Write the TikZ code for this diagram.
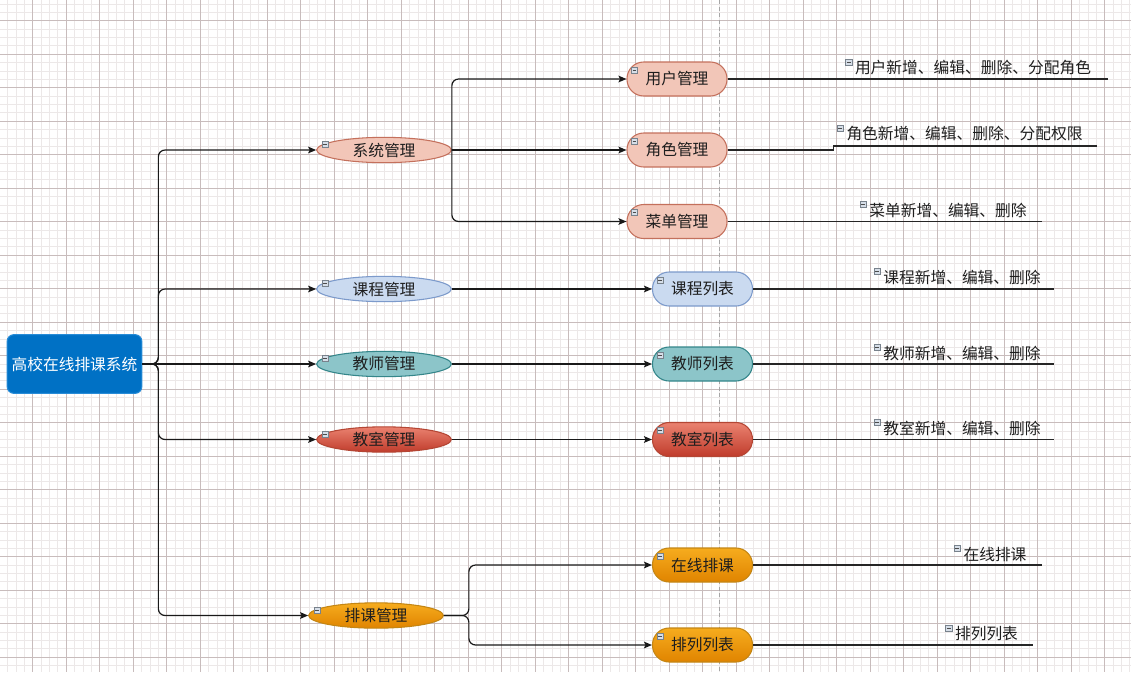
\documentclass[tikz,border=0pt]{standalone}
\usepackage{fontspec}
\setmainfont{Noto Sans CJK SC}
\usetikzlibrary{arrows.meta,shapes.geometric}

\definecolor{gridminor}{RGB}{236,232,232}
\definecolor{gridmajor}{RGB}{200,188,188}
\definecolor{rootblue}{RGB}{0,113,197}
\definecolor{rootedge}{RGB}{40,140,215}
\definecolor{sysfill}{RGB}{242,198,184}
\definecolor{sysedge}{RGB}{196,112,92}
\definecolor{coursefill}{RGB}{202,218,240}
\definecolor{courseedge}{RGB}{124,154,203}
\definecolor{teacherfill}{RGB}{140,197,201}
\definecolor{teacheredge}{RGB}{52,134,138}
\definecolor{roomtop}{RGB}{234,130,112}
\definecolor{roombot}{RGB}{192,60,44}
\definecolor{roomedge}{RGB}{180,70,52}
\definecolor{schedtop}{RGB}{246,172,30}
\definecolor{schedbot}{RGB}{224,132,0}
\definecolor{schededge}{RGB}{196,134,20}
\definecolor{textdark}{RGB}{30,30,30}
\definecolor{foldedge}{RGB}{120,130,140}
\definecolor{foldfill}{RGB}{214,222,232}

\tikzset{
  topic/.style={ellipse, draw, line width=0.8pt, minimum width=101pt,
    minimum height=19pt, inner sep=0pt, text=textdark},
  subtopic/.style={rectangle, rounded corners=12.5pt, draw, line width=0.8pt,
    minimum width=75pt, minimum height=25.5pt, inner sep=0pt, text=textdark},
  leaf/.style={inner sep=0pt, text=textdark},
  fold/.style={draw=foldedge, fill=foldfill, line width=0.4pt, minimum size=4.8pt,
    inner sep=0pt, path picture={\draw[black!70, line width=0.6pt]
      ([xshift=1pt]path picture bounding box.west) --
      ([xshift=-1pt]path picture bounding box.east);}},
  link/.style={draw=black!90, line width=0.9pt, rounded corners=5pt,
    -{Stealth[length=6pt,width=5pt,inset=1.2pt]}},
  leafline/.style={draw=black!85, line width=0.9pt},
}

\begin{document}
\begin{tikzpicture}[x=0.75pt, y=-0.75pt, font=\fontsize{11.8}{14}\selectfont]
\useasboundingbox (0,0) rectangle (1131,672);
\fill[white] (0,0) rectangle (1131,672);
% grid
\foreach \i in {0,...,135}
  \draw[gridminor, line width=0.3pt] ({\i*8.375-1},0) -- ({\i*8.375-1},672);
\foreach \j in {-2,...,77}
  \draw[gridminor, line width=0.3pt] (0,{\j*8.375+20.5}) -- (1131,{\j*8.375+20.5});
\foreach \i in {1,...,33}
  \draw[gridmajor, line width=0.5pt] ({\i*33.5-1},0) -- ({\i*33.5-1},672);
\foreach \j in {0,...,19}
  \draw[gridmajor, line width=0.5pt] (0,{\j*33.5+20.5}) -- (1131,{\j*33.5+20.5});
\draw[gray!70, line width=0.5pt, dash pattern=on 3pt off 2pt] (719,0) -- (719,672);

% root and topics
\node[rectangle, rounded corners=5pt, fill=rootblue, draw=rootedge, line width=0.8pt,
  minimum width=101pt, minimum height=44pt, inner sep=0pt, text=white]
  (root) at (74.5,364) {高校在线排课系统};
\node[topic, fill=sysfill, draw=sysedge] (sys) at (384,150) {系统管理};
\node[topic, fill=coursefill, draw=courseedge] (course) at (384,289) {课程管理};
\node[topic, fill=teacherfill, draw=teacheredge] (teacher) at (384,364) {教师管理};
\node[topic, top color=roomtop, bottom color=roombot, draw=roomedge] (room) at (384,439.5) {教室管理};
\node[topic, top color=schedtop, bottom color=schedbot, draw=schededge] (sched) at (376,615.5) {排课管理};

% subtopics
\node[subtopic, fill=sysfill, draw=sysedge] (user) at (677,79) {用户管理};
\node[subtopic, fill=sysfill, draw=sysedge] (role) at (677,150) {角色管理};
\node[subtopic, fill=sysfill, draw=sysedge] (menu) at (677,221.5) {菜单管理};
\node[subtopic, fill=coursefill, draw=courseedge] (courselist) at (702.5,289) {课程列表};
\node[subtopic, fill=teacherfill, draw=teacheredge] (teacherlist) at (702.5,364) {教师列表};
\node[subtopic, top color=roomtop, bottom color=roombot, draw=roomedge] (roomlist) at (702.5,439.5) {教室列表};
\node[subtopic, top color=schedtop, bottom color=schedbot, draw=schededge] (online) at (702.5,565) {在线排课};
\node[subtopic, top color=schedtop, bottom color=schedbot, draw=schededge] (arrange) at (702.5,645) {排列列表};

% leaves
\node[leaf] (userleaf) at (973,68) {用户新增、编辑、删除、分配角色};
\node[leaf] (roleleaf) at (964.5,134) {角色新增、编辑、删除、分配权限};
\node[leaf] (menuleaf) at (948,210) {菜单新增、编辑、删除};
\node[leaf] (courseleaf) at (962,277) {课程新增、编辑、删除};
\node[leaf] (teacherleaf) at (962,353) {教师新增、编辑、删除};
\node[leaf] (roomleaf) at (962,428) {教室新增、编辑、删除};
\node[leaf] (onlineleaf) at (995,554) {在线排课};
\node[leaf] (arrangeleaf) at (986.5,634) {排列列表};

% fold marks
\foreach \n in {sys,course,teacher,room,sched}
  \node[fold] (\n-fold) at ([shift={(-59,-5.5)}]\n.center) {};
\foreach \n in {user,role,menu,courselist,teacherlist,roomlist,online,arrange}
  \node[fold] (\n-fold) at ([shift={(-42.5,-9)}]\n.center) {};
\foreach \n in {userleaf,roleleaf,menuleaf,courseleaf,teacherleaf,roomleaf,onlineleaf,arrangeleaf}
  \node[fold] (\n-fold) at ([shift={(-6,-5.5)}]\n.west) {};

% connectors
\draw[link] (root.east) -- ++(16,0) |- (sys.west);
\draw[link] (root.east) -- ++(16,0) |- (course.west);
\draw[link] (root.east) -- (teacher.west);
\draw[link] (root.east) -- ++(16,0) |- (room.west);
\draw[link] (root.east) -- ++(16,0) |- (sched.west);
\draw[link] (sys.east) |- (user.west);
\draw[link] (sys.east) -- (role.west);
\draw[link] (sys.east) |- (menu.west);
\draw[link] (course.east) -- (courselist.west);
\draw[link] (teacher.east) -- (teacherlist.west);
\draw[link] (room.east) -- (roomlist.west);
\draw[link] (sched.east) -- ++(25,0) |- (online.west);
\draw[link] (sched.east) -- ++(25,0) |- (arrange.west);

% leaf lines
\coordinate (userend) at (1108,79);
\coordinate (roleend) at (1097,146);
\coordinate (menuend) at (1042,221.5);
\coordinate (courseend) at (1054,289);
\coordinate (teacherend) at (1054,364);
\coordinate (roomend) at (1054,439.5);
\coordinate (onlineend) at (1042,565);
\coordinate (arrangeend) at (1033,645);
\draw[leafline] (user.east) -- (userend);
\draw[leafline] (role.east) -- ++(106,0) |- (roleend);
\draw[leafline] (menu.east) -- (menuend);
\draw[leafline] (courselist.east) -- (courseend);
\draw[leafline] (teacherlist.east) -- (teacherend);
\draw[leafline] (roomlist.east) -- (roomend);
\draw[leafline] (online.east) -- (onlineend);
\draw[leafline] (arrange.east) -- (arrangeend);
\end{tikzpicture}
\end{document}
